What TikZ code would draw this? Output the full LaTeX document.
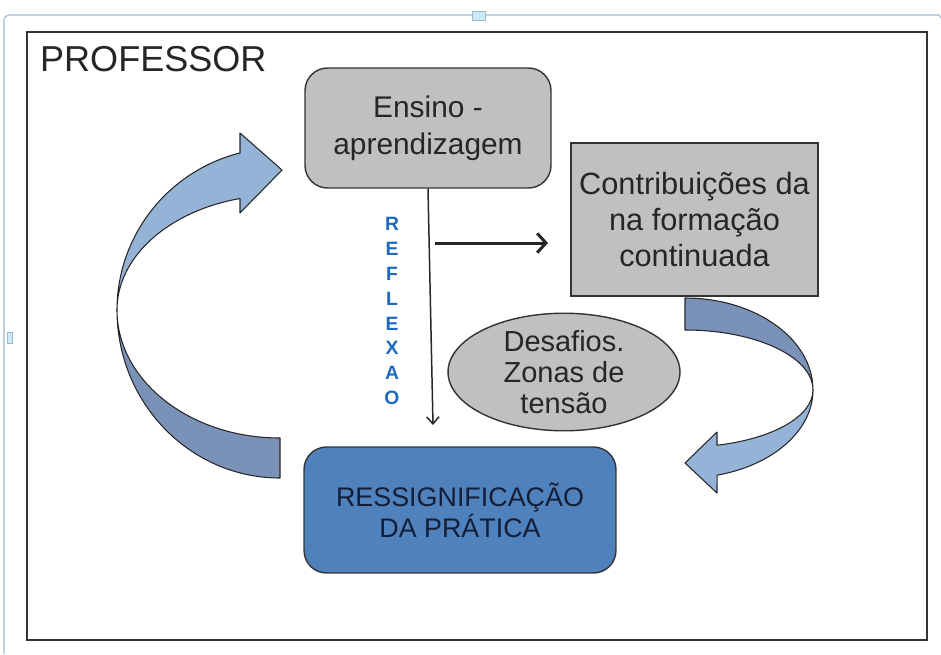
\documentclass[tikz,border=0pt]{standalone}
\usepackage{fontspec}
\setmainfont{Liberation Sans}
\usetikzlibrary{shapes.geometric,arrows.meta}

\definecolor{boxgray}{RGB}{192,192,192}
\definecolor{praticablue}{RGB}{79,129,189}
\definecolor{ribbonlight}{RGB}{149,179,215}
\definecolor{ribbondark}{RGB}{122,146,183}
\definecolor{reflexblue}{RGB}{31,106,190}
\definecolor{framegray}{RGB}{160,185,205}
\definecolor{handlecyan}{RGB}{205,232,246}

\begin{document}
\begin{tikzpicture}[x=0.02cm,y=-0.02cm,
	graybox/.style={draw=black!80,line width=0.8pt,fill=boxgray,align=center,text=black!85,inner sep=0pt},
	ribbon/.style={draw=black!85,line width=0.6pt,line join=round}]

	\useasboundingbox (0,0) rectangle (941,654);

	%The outer frame
	\draw[framegray,line width=0.6pt] (4,654) -- (4,20) to[out=90,in=180] (9,15) -- (939,15) -- (941,18);
	\draw[framegray,fill=handlecyan,line width=0.4pt] (472,11) rectangle (485,20);
	\draw[framegray,fill=handlecyan,line width=0.4pt] (7,332) rectangle (12,343);

	%The box of the professor
	\draw[black!80,line width=1.2pt] (27,32) rectangle (927,640);
	\draw node[anchor=base west,text=black!85,font=\fontsize{20.5}{24}\selectfont] (prof) at (34,71) {PROFESSOR};

	%Left ribbon (back, then front)
	\draw[ribbon,fill=ribbondark] (280,478) arc[start angle=90,end angle=180,x radius=163,y radius=168]
		arc[start angle=180,end angle=90,x radius=163,y radius=128] -- cycle;
	\draw[ribbon,fill=ribbonlight] (117,310) arc[start angle=180,end angle=255.8,x radius=163,y radius=162]
		-- (240,133) -- (282,170) -- (240,213) -- (240,198.5)
		arc[start angle=255.8,end angle=180,x radius=163,y radius=115] -- cycle;

	%Right ribbon (back, then front)
	\draw[ribbon,fill=ribbondark] (685,298) arc[start angle=270,end angle=360,x radius=128,y radius=92]
		arc[start angle=360,end angle=270,x radius=128,y radius=60] -- cycle;
	\draw[ribbon,fill=ribbonlight] (813,390) arc[start angle=0,end angle=75.5,x radius=128,y radius=88]
		-- (717,493) -- (685,463) -- (717,432) -- (717,445.2)
		arc[start angle=75.5,end angle=0,x radius=128,y radius=57] -- cycle;

	%The boxes
	\draw node[graybox,rounded corners=0.45cm,minimum width=4.92cm,minimum height=2.4cm,
		font=\fontsize{17}{21}\selectfont] (ensino) at (428,128) {Ensino -\\aprendizagem};
	\draw node[graybox,minimum width=4.94cm,minimum height=3.06cm,
		font=\fontsize{17.5}{20.4}\selectfont] (contrib) at (694.5,219.5) {Contribuições da\\na formação\\continuada};
	\draw node[graybox,ellipse,minimum width=4.64cm,minimum height=2.18cm,
		font=\fontsize{16.5}{17.6}\selectfont] (desafios) at (564,372) {Desafios.\\Zonas de\\tensão};
	\draw node[graybox,fill=praticablue,text={rgb,255:red,20;green,30;blue,55},rounded corners=0.45cm,
		minimum width=6.24cm,minimum height=2.52cm,
		font=\fontsize{15.3}{15.9}\selectfont] (ressig) at (460,510) {RESSIGNIFICAÇÃO\\DA PRÁTICA};

	%Reflexao
	\draw node[text=reflexblue,align=center,font=\fontsize{11}{14.2}\selectfont\bfseries] (reflexao) at (392,311)
		{R\\E\\F\\L\\E\\X\\A\\O};

	%Arrows
	\coordinate (reflend) at (433,425);
	\coordinate (hstart) at (435,243);
	\coordinate (hend) at (548,243);
	\draw[black!85,line width=0.85pt,-{Straight Barb[length=4pt,width=7pt]}] (ensino.south) -- (reflend);
	\draw[black!85,line width=1.7pt,-{Straight Barb[length=5pt,width=11pt]}] (hstart) -- (hend);

\end{tikzpicture}
\end{document}
